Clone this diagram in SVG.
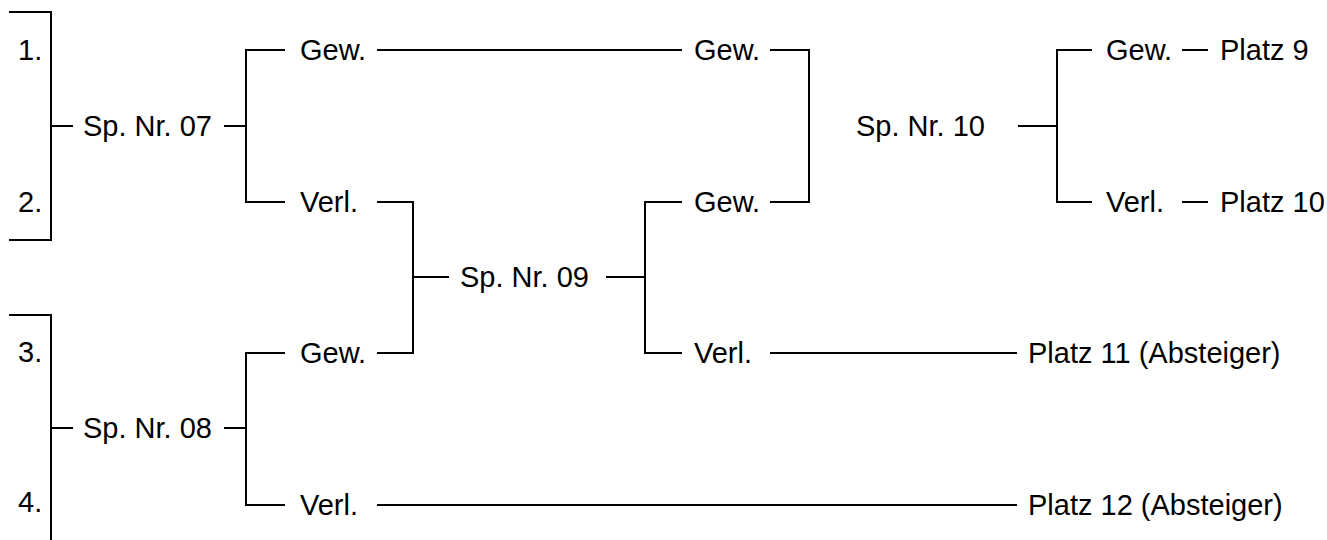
<svg xmlns="http://www.w3.org/2000/svg" width="1327" height="540" viewBox="0 0 1327 540">
<style>
text{font-family:"Liberation Sans",Arial,sans-serif;font-size:29px;fill:#000}
.c path{fill:none;stroke:#000;stroke-width:2}
</style>
<rect width="1327" height="540" fill="#fff"/>
<g class="c" id="connectors">
<path d="M9,12 H51 V240 H9"/>
<path d="M51,126 H73"/>
<path d="M9,315 H51 V540"/>
<path d="M51,428 H73"/>
<path d="M224,126 H246"/>
<path d="M285,50 H246 V202 H285"/>
<path d="M224,428 H246"/>
<path d="M285,353 H246 V505 H285"/>
<path d="M377,50 H682"/>
<path d="M770,50 H809 V202 H770"/>
<path d="M377,202 H413 V353 H377"/>
<path d="M413,277 H449"/>
<path d="M606,277 H645"/>
<path d="M682,202 H645 V353 H682"/>
<path d="M770,353 H1017"/>
<path d="M1018,126 H1057"/>
<path d="M1092,50 H1057 V202 H1092"/>
<path d="M1182,50 H1208"/>
<path d="M1182,202 H1208"/>
<path d="M377,505 H1017"/>
</g>
<g id="team1"><text x="18" y="60">1.</text></g>
<g id="team2"><text x="18" y="212">2.</text></g>
<g id="team3"><text x="18" y="362">3.</text></g>
<g id="team4"><text x="18" y="512">4.</text></g>
<g id="sp07"><text x="83" y="136">Sp. Nr. 07</text></g>
<g id="sp08"><text x="83" y="438">Sp. Nr. 08</text></g>
<g id="sp07-gew"><text x="300" y="60">Gew.</text></g>
<g id="sp07-verl"><text x="300" y="212">Verl.</text></g>
<g id="sp08-gew"><text x="300" y="363">Gew.</text></g>
<g id="sp08-verl"><text x="300" y="515">Verl.</text></g>
<g id="sp09"><text x="460" y="287">Sp. Nr. 09</text></g>
<g id="gew-top"><text x="694" y="60">Gew.</text></g>
<g id="sp09-gew"><text x="694" y="212">Gew.</text></g>
<g id="sp09-verl"><text x="694" y="363">Verl.</text></g>
<g id="sp10"><text x="856" y="136">Sp. Nr. 10</text></g>
<g id="sp10-gew"><text x="1106" y="60">Gew.</text></g>
<g id="sp10-verl"><text x="1106" y="212">Verl.</text></g>
<g id="platz9"><text x="1220" y="60">Platz 9</text></g>
<g id="platz10"><text x="1220" y="212">Platz 10</text></g>
<g id="platz11"><text x="1028" y="363">Platz 11 (Absteiger)</text></g>
<g id="platz12"><text x="1028" y="515">Platz 12 (Absteiger)</text></g>
</svg>
